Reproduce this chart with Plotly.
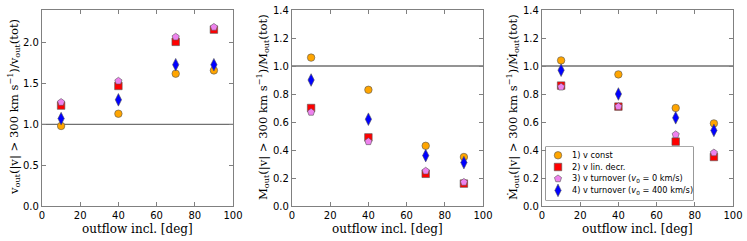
import plotly.graph_objects as go

incl = [10, 40, 70, 90]

# panel 1: v_out ratio
v_const_1 = [0.98, 1.13, 1.62, 1.66]
v_lin_1 = [1.23, 1.47, 2.01, 2.16]
v_turn0_1 = [1.27, 1.53, 2.07, 2.19]
v_turn400_1 = [1.07, 1.30, 1.73, 1.73]

# panel 2: M_out ratio
v_const_2 = [1.06, 0.83, 0.43, 0.35]
v_lin_2 = [0.70, 0.49, 0.23, 0.16]
v_turn0_2 = [0.67, 0.46, 0.25, 0.17]
v_turn400_2 = [0.90, 0.62, 0.36, 0.31]

# panel 3: Mdot_out ratio
v_const_3 = [1.04, 0.94, 0.70, 0.59]
v_lin_3 = [0.86, 0.71, 0.46, 0.35]
v_turn0_3 = [0.85, 0.71, 0.51, 0.38]
v_turn400_3 = [0.97, 0.80, 0.63, 0.54]

series_names = [
    "1) v const",
    "2) v lin. decr.",
    "3) v turnover (<i>v</i><sub>0</sub> = 0 km/s)",
    "4) v turnover (<i>v</i><sub>0</sub> = 400 km/s)",
]
colors = ["#FFA500", "#FF0000", "#EE82EE", "#0000FF"]
symbols = ["circle", "square", "pentagon", "diamond-tall"]
sizes = [7.5, 7.5, 7.5, 9]

panels = [
    [v_const_1, v_lin_1, v_turn0_1, v_turn400_1],
    [v_const_2, v_lin_2, v_turn0_2, v_turn400_2],
    [v_const_3, v_lin_3, v_turn0_3, v_turn400_3],
]
ytitles = [
    "v<sub>out</sub>(|v| > 300 km s<sup>−1</sup>)/v<sub>out</sub>(tot)",
    "M<sub>out</sub>(|v| > 300 km s<sup>−1</sup>)/M<sub>out</sub>(tot)",
    "Ṁ<sub>out</sub>(|v| > 300 km s<sup>−1</sup>)/Ṁ<sub>out</sub>(tot)",
]
xtitle = "outflow incl. [deg]"
yranges = [[0, 2.4], [0, 1.4], [0, 1.4]]
ydticks = [0.5, 0.2, 0.2]

W, H = 747, 241
ml, mr, mt, mb = 42, 14, 10, 35
pw = W - ml - mr
ph = H - mt - mb
lefts = [42, 292, 542]
pwidth = 191
ytitle_x = [13, 262, 512]


def px(x):
    return (x - ml) / pw


def py(y):
    return (H - mb - y) / ph


title_font = dict(family="DejaVu Serif", size=12, color="black")
ytitle_font = dict(family="DejaVu Serif", size=11.6, color="black")
fig = go.Figure()
for p in range(3):
    xa = "x" if p == 0 else f"x{p+1}"
    ya = "y" if p == 0 else f"y{p+1}"
    for s in range(4):
        fig.add_trace(go.Scatter(
            x=incl, y=panels[p][s], mode="markers", name=series_names[s],
            marker=dict(color=colors[s], symbol=symbols[s], size=sizes[s],
                        line=dict(color="#555555", width=0.6)),
            xaxis=xa, yaxis=ya, showlegend=False,
        ))
    axcommon = dict(showgrid=False, zeroline=False, showline=True, linecolor="#808080",
                    linewidth=1.3, mirror="ticks", ticks="inside", ticklen=4,
                    tickcolor="#808080", tickwidth=1, automargin=False,
                    tickfont=dict(family="DejaVu Sans", size=10, color="black"))
    xkey = "xaxis" if p == 0 else f"xaxis{p+1}"
    ykey = "yaxis" if p == 0 else f"yaxis{p+1}"
    fig.update_layout(**{
        xkey: dict(domain=[px(lefts[p]), px(lefts[p] + pwidth)], range=[0, 100], dtick=20,
                   anchor=ya, **axcommon),
        ykey: dict(domain=[0, 1], range=yranges[p], dtick=ydticks[p], anchor=xa,
                   tickformat=".1f", **axcommon),
    })
    fig.add_shape(type="line", xref=f"{xa} domain", yref=ya, x0=0, x1=1, y0=1, y1=1,
                  line=dict(color="#707070", width=1.3), layer="below")
    fig.add_annotation(text=ytitles[p], xref="paper", yref="paper",
                       x=px(ytitle_x[p]), y=py(107), textangle=-90, showarrow=False,
                       xanchor="center", yanchor="middle", font=ytitle_font)
    fig.add_annotation(text=xtitle, xref="paper", yref="paper",
                       x=px(lefts[p] + pwidth / 2), y=py(229), showarrow=False,
                       xanchor="center", yanchor="middle", font=title_font)

# legend (drawn in panel 3) on a hidden pixel-unit axis
leg_x0, leg_x1, leg_y0, leg_y1 = 546, 693, 147, 200
fig.update_layout(
    xaxis4=dict(domain=[px(leg_x0), px(leg_x1)], range=[leg_x0, leg_x1], visible=False,
                anchor="y4", fixedrange=True),
    yaxis4=dict(domain=[py(leg_y1), py(leg_y0)], range=[leg_y1, leg_y0], visible=False,
                anchor="x4", fixedrange=True),
)
fig.add_shape(type="rect", xref="paper", yref="paper", x0=px(leg_x0), x1=px(leg_x1),
              y0=py(leg_y1), y1=py(leg_y0), line=dict(color="#555555", width=1.2),
              fillcolor="white", layer="below")
row_y = [155.3, 167.0, 178.7, 190.4]
key_x = 558
text_x = 570
for s in range(4):
    fig.add_trace(go.Scatter(
        x=[key_x], y=[row_y[s]], mode="markers", showlegend=False, hoverinfo="skip",
        marker=dict(color=colors[s], symbol=symbols[s], size=sizes[s],
                    line=dict(color="#555555", width=0.6)),
        xaxis="x4", yaxis="y4",
    ))
    fig.add_annotation(text=series_names[s], xref="x4", yref="y4", x=text_x, y=row_y[s],
                       showarrow=False, xanchor="left", yanchor="middle", align="left",
                       width=122, font=dict(family="DejaVu Sans", size=8.2, color="black"))

fig.update_layout(
    width=W, height=H,
    margin=dict(l=ml, r=mr, t=mt, b=mb),
    plot_bgcolor="white", paper_bgcolor="white",
    showlegend=False,
)

fig.write_html("out.html", config={"displayModeBar": False},
               post_script="document.body.style.margin='0';document.body.style.overflow='hidden';")
